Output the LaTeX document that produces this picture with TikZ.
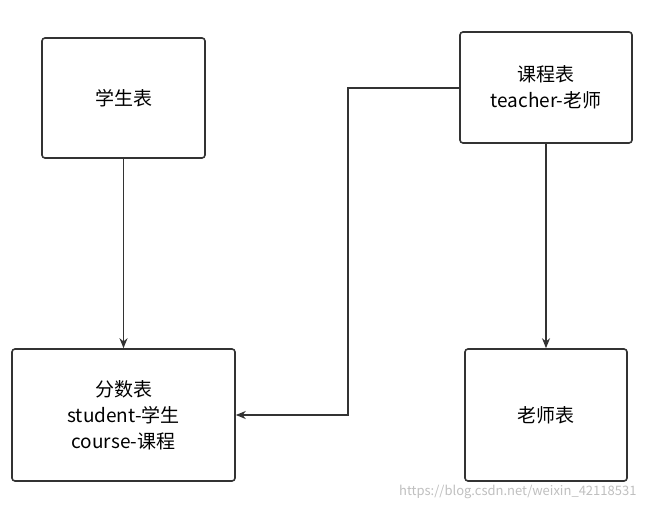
\documentclass[tikz,border=0pt]{standalone}
\usepackage{fontspec}
\usetikzlibrary{arrows.meta}
\setmainfont{Noto Sans CJK SC}
\begin{document}
\begin{tikzpicture}[x=1pt,y=-1pt,
  box/.style={draw=black!80,line width=1.6pt,rounded corners=3pt,align=center,font=\fontsize{19}{26}\selectfont,inner sep=0pt},
  conn/.style={draw=black!80,line width=1.5pt,-{Stealth[length=10pt,width=8pt]}}]
\useasboundingbox (0,0) rectangle (647,510);
\node[box,minimum width=163pt,minimum height=120pt] (s) at (123.5,98) {学生表};
\node[box,minimum width=172pt,minimum height=111pt] (c) at (546,87.5) {课程表\\teacher-老师};
\node[box,minimum width=223pt,minimum height=132pt] (f) at (123.5,415) {分数表\\student-学生\\course-课程};
\node[box,minimum width=162pt,minimum height=132pt] (t) at (546,415) {老师表};
\draw[conn] (s.south) -- (s.south |- f.north);
\draw[conn] (c.south) -- (c.south |- t.north);
\coordinate (k1) at (348,88);
\coordinate (k2) at (348,415);
\draw[conn] (c.west |- k1) -- (k1) -- (k2) -- (f.east |- k2);
\node[text=black!25,font=\fontsize{13}{15}\selectfont,anchor=east] (w) at (640,492) {https://blog.csdn.net/weixin\_42118531};
\end{tikzpicture}
\end{document}
